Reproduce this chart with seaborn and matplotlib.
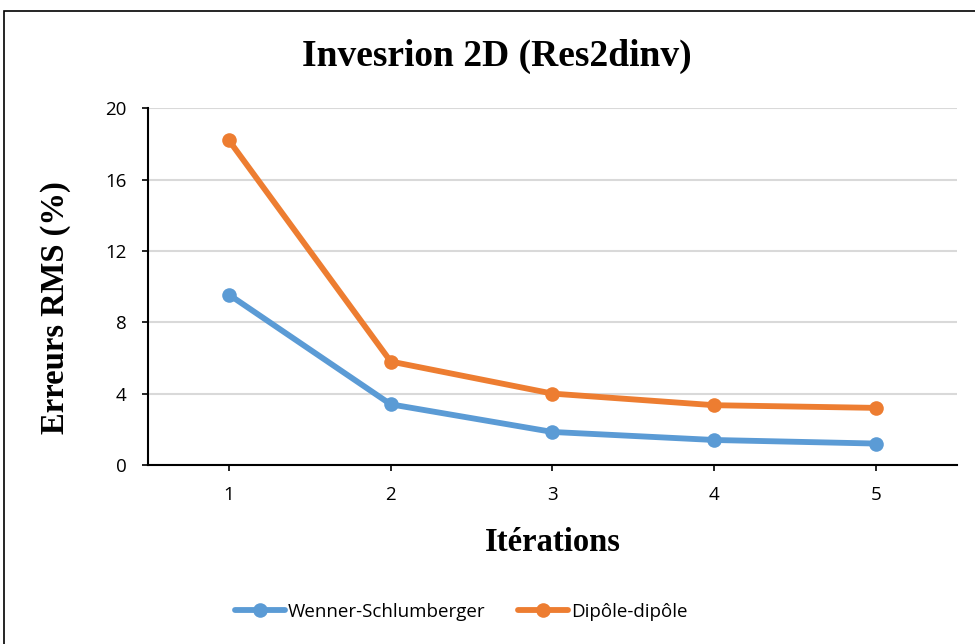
import pandas as pd
import numpy as np
import matplotlib.pyplot as plt
import seaborn as sns
from matplotlib.patches import Rectangle

# donnees
iterations = [1, 2, 3, 4, 5]
wenner = [9.55, 3.4, 1.85, 1.4, 1.2]
dipole = [18.2, 5.8, 4.0, 3.35, 3.2]
series_names = ['Wenner-Schlumberger', 'Dipôle-dipôle']
yticks = [0, 4, 8, 12, 16, 20]

df = pd.DataFrame({
    'Itérations': iterations * 2,
    'RMS': wenner + dipole,
    'Méthode': [series_names[0]] * 5 + [series_names[1]] * 5,
})

sns.set_style("white")
plt.rcParams['font.family'] = ['Open Sans', 'DejaVu Sans']
plt.rcParams['text.color'] = 'black'
plt.rcParams['axes.labelcolor'] = 'black'

fig = plt.figure(figsize=(9.75, 6.44), dpi=100)
ax = fig.add_axes([0.1518, 0.278, 0.8297, 0.554])

sns.lineplot(data=df, x='Itérations', y='RMS', hue='Méthode',
             palette=['#5B9BD5', '#ED7D31'], marker='o', markersize=10.5,
             markeredgewidth=0, linewidth=4.2, ax=ax, legend=False)

ax.set_xlim(0.5, 5.5)
ax.set_ylim(0, 20)
ax.set_xticks(iterations)
ax.set_yticks(yticks)
ax.tick_params(axis='both', labelsize=13.5, length=4.5, width=1.2, direction='out',
               colors='black', bottom=True, left=True, pad=11)
ax.grid(axis='y', color='#D9D9D9', linewidth=1.5)
ax.set_axisbelow(True)
for s in ['top', 'right']:
    ax.spines[s].set_visible(False)
for s in ['left', 'bottom']:
    ax.spines[s].set_color('black')
    ax.spines[s].set_linewidth(1.5)

serif = {'family': 'Liberation Serif', 'weight': 'bold'}
ax.set_xlabel('Itérations', fontdict=serif, fontsize=23.5)
ax.set_ylabel('Erreurs RMS (%)', fontdict=serif, fontsize=23.5)
ax.xaxis.set_label_coords(0.5, -0.175)
ax.yaxis.set_label_coords(-0.095, 0.44)
fig.text(0.51, 0.913, 'Invesrion 2D (Res2dinv)', ha='center', va='center',
         fontdict=serif, fontsize=27)

# legende en bas
handles = [plt.Line2D([], [], color=c, linewidth=4.2, marker='o', markersize=10.5,
                      markeredgewidth=0) for c in ['#5B9BD5', '#ED7D31']]
fig.legend(handles, series_names, loc='center', bbox_to_anchor=(0.473, 0.05),
           ncol=2, frameon=False, handlelength=2.67, columnspacing=1.76,
           handletextpad=0.16, prop={'family': 'Open Sans', 'size': 13.5})

# cadre autour du graphique
fig.patches.append(Rectangle((0.004, -0.1), 1.1, 1.083, transform=fig.transFigure,
                             fill=False, edgecolor='black', linewidth=1.2))

plt.savefig('out.png', dpi=100)
